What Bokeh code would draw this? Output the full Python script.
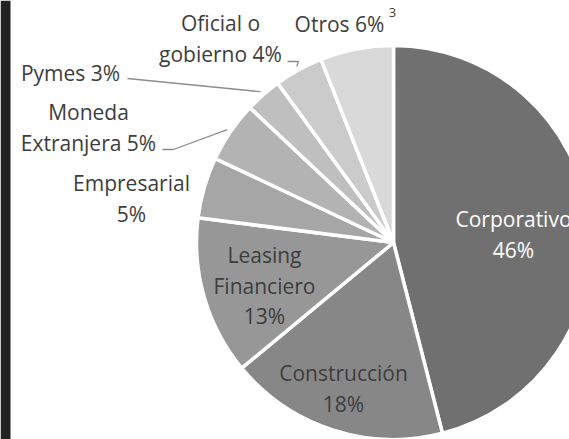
import math
from bokeh.plotting import figure
from bokeh.models import Range1d, BoxAnnotation
from bokeh.core.properties import value
from bokeh.embed import file_html
from bokeh.resources import INLINE

# ---- data ----
categories = ["Corporativo", "Construcción", "Leasing Financiero", "Empresarial",
              "Moneda Extranjera", "Pymes", "Oficial o gobierno", "Otros"]
shares = [46, 18, 13, 5, 5, 3, 4, 6]
footnote = "3"

# ---- styles / layout ----
colors = ["#707070", "#878787", "#979797", "#a6a6a6", "#b3b3b3", "#bfbfbf", "#cbcbcb", "#d9d9d9"]
text_colors = ["#ffffff"] + ["#3d3d3d"] * 7
# word indices after which a line break is inserted in "<category> <share>%"
breaks = [[0], [0], [0, 1], [0], [0], [], [1], []]
# label block centres (pixel coordinates)
label_pos = [(513, 234), (343, 388), (264, 285), (131, 198), (88, 127), (70, 72), (220, 38), (339, 23)]
# leader elbows (pixel coordinates) for outside labels
leaders = {4: [(162, 149), (173, 149)], 5: [(127, 78)], 6: [(287, 61), (298, 61)]}
LINE_H = 30.5
FONT = "Open Sans"

W, H = 569, 439
CX, CY, R = 393, 242, 197


def py(y):
    return H - y


p = figure(width=W, height=H, x_range=Range1d(0, W), y_range=Range1d(0, H),
           output_backend="svg", toolbar_location=None, min_border=0,
           x_axis_type=None, y_axis_type=None, outline_line_color=None,
           background_fill_color="white", border_fill_color="white")
p.grid.visible = False

total = sum(shares)
cum = [0]
for s in shares:
    cum.append(cum[-1] + s)
starts = [math.pi / 2 - 2 * math.pi * c / total for c in cum[:-1]]
ends = [math.pi / 2 - 2 * math.pi * c / total for c in cum[1:]]
mids = [(a + b) / 2 for a, b in zip(starts, ends)]

p.wedge(x=[CX] * len(shares), y=[py(CY)] * len(shares), radius=R,
        start_angle=starts, end_angle=ends, direction="clock",
        fill_color=colors, line_color="white", line_width=3.5)

# leader lines
for i, pts in leaders.items():
    ex = CX + (R + 4) * math.cos(mids[i])
    ey = py(CY) + (R + 4) * math.sin(mids[i])
    xs = [q[0] for q in pts] + [ex]
    ys = [py(q[1]) for q in pts] + [ey]
    p.line(xs, ys, line_color="#8c8c8c", line_width=1.3)

# labels
tx, ty, tt, tc = [], [], [], []
for i, (cat, s) in enumerate(zip(categories, shares)):
    words = f"{cat} {s}%".split(" ")
    lines, cur = [], []
    for j, w in enumerate(words):
        cur.append(w)
        if j in breaks[i]:
            lines.append(" ".join(cur))
            cur = []
    if cur:
        lines.append(" ".join(cur))
    cx, cy = label_pos[i]
    n = len(lines)
    for k, ln in enumerate(lines):
        tx.append(cx)
        ty.append(py(cy + (k - (n - 1) / 2) * LINE_H))
        tt.append(ln)
        tc.append(text_colors[i])

p.text(x=tx, y=ty, text=tt, text_color=tc, text_font=value(FONT),
       text_font_size="21px", text_align="center", text_baseline="middle")

# footnote marker next to "Otros"
p.text(x=[392], y=[py(12)], text=[footnote], text_color="#3d3d3d", text_font=value(FONT),
       text_font_size="13px", text_align="center", text_baseline="middle")

# dark strip on the left edge
p.add_layout(BoxAnnotation(left=0, right=10, fill_color="#222222", fill_alpha=1.0, line_color=None))

open("out.html", "w").write(file_html(p, INLINE))
